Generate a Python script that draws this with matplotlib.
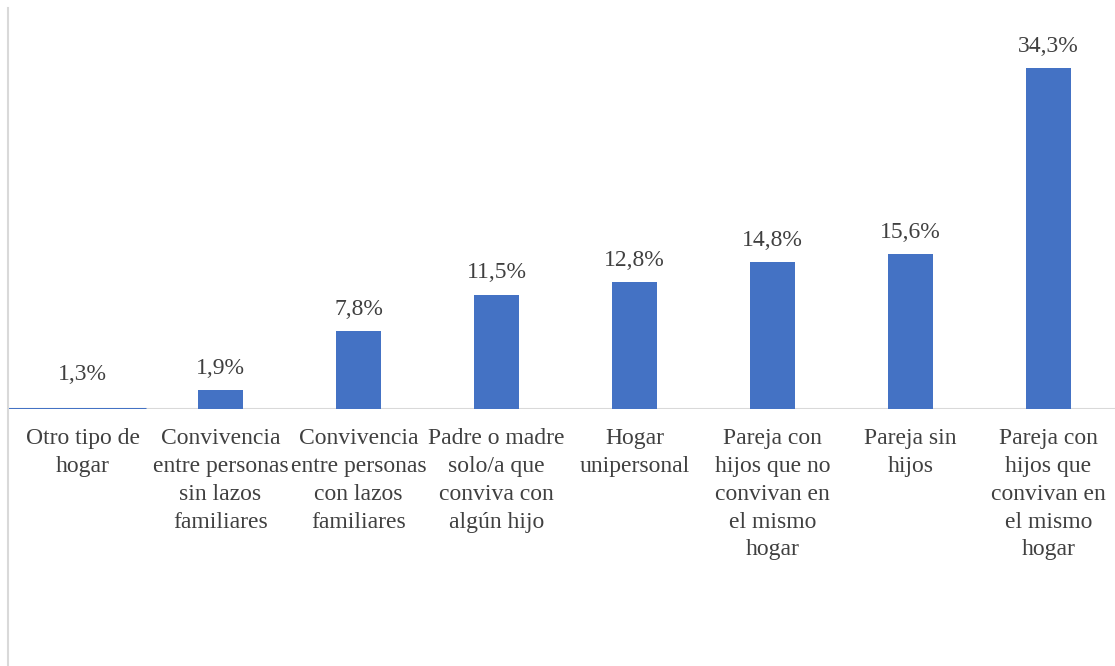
import matplotlib
matplotlib.use("Agg")
import matplotlib.pyplot as plt
from matplotlib.lines import Line2D

categories = [
    "Otro tipo de\nhogar",
    "Convivencia\nentre personas\nsin lazos\nfamiliares",
    "Convivencia\nentre personas\ncon lazos\nfamiliares",
    "Padre o madre\nsolo/a que\nconviva con\nalgún hijo",
    "Hogar\nunipersonal",
    "Pareja con\nhijos que no\nconvivan en\nel mismo\nhogar",
    "Pareja sin\nhijos",
    "Pareja con\nhijos que\nconvivan en\nel mismo\nhogar",
]
values = [1.3, 1.9, 7.8, 11.5, 12.8, 14.8, 15.6, 34.3]
# the first category is drawn flat on the baseline
flat_first = True

BLUE = "#4472C4"
TEXT = "#404040"
GRID = "#D9D9D9"

plt.rcParams["font.family"] = ["Liberation Serif", "DejaVu Serif"]

W, H = 1115, 666
fig = plt.figure(figsize=(W / 100, H / 100), dpi=100)
slot = 138.0
x_lo, x_hi = -0.54, 7.5
ax = fig.add_axes([8 / W, 1 - 409 / H, (x_hi - x_lo) * slot / W, (409 - 8) / H])

x = list(range(len(categories)))
bar_h = [0 if (i == 0 and flat_first) else v for i, v in enumerate(values)]
ax.bar(x, bar_h, width=0.32, color=BLUE, zorder=3)

ax.set_xlim(x_lo, x_hi)
ax.set_ylim(0, 40.3)

# baseline; the first slot is highlighted in blue
ax.axhline(0, color=GRID, lw=1.5, zorder=2)
ax.plot([x_lo, 0.46], [0, 0], color=BLUE, lw=2.2, zorder=4, solid_capstyle="butt")

for xi, v in zip(x, values):
    ax.annotate(f"{v:.1f}%".replace(".", ","), (xi, v), xytext=(0, 8),
                textcoords="offset points", ha="center", va="bottom",
                fontsize=17, color=TEXT)

ax.set_xticks(x)
ax.set_xticklabels(categories, fontsize=17, color=TEXT, linespacing=1.42,
                   multialignment="center")
ax.tick_params(axis="x", length=0, pad=14)
ax.set_yticks([])
for s in ax.spines.values():
    s.set_visible(False)

# left border line of the chart area
fig.add_artist(Line2D([8 / W, 8 / W], [1 - 8 / H, 1 - 665 / H],
                      transform=fig.transFigure, color=GRID, lw=1.5))

fig.savefig("out.png", dpi=100)
